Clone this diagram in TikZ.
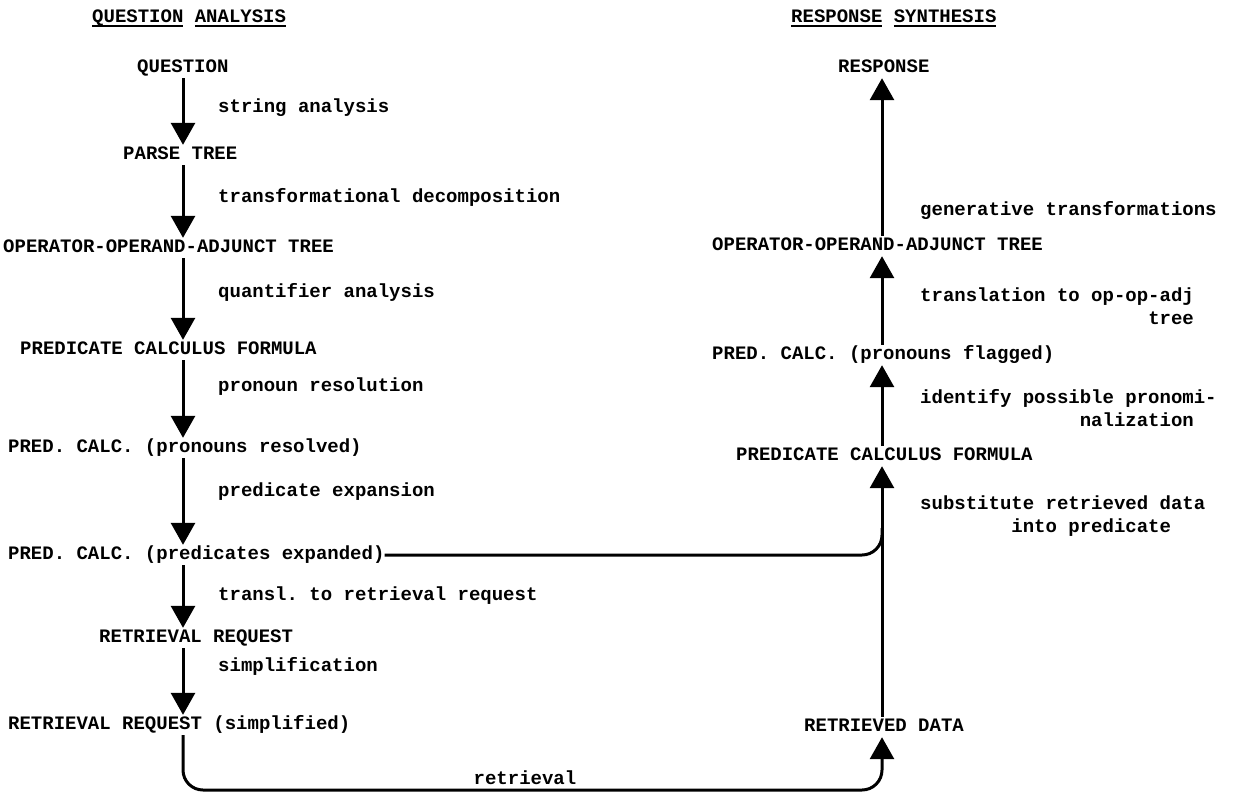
\documentclass[tikz,border=0pt]{standalone}
\usepackage{fontspec}
\setmonofont{Liberation Mono}
\usetikzlibrary{arrows.meta,positioning,calc}

\newcommand{\ulword}[1]{\setbox0\hbox{#1}\rlap{\rule[-5pt]{\wd0}{2pt}}\box0\relax}

\tikzset{
  stage/.style={anchor=west, inner xsep=0pt, inner ysep=3pt, text height=11pt, text depth=3pt},
  note/.style={anchor=west, inner sep=0pt, align=left},
  flow/.style={line width=3pt, -{Triangle[width=24pt,length=22pt]}},
  link/.style={line width=3pt},
}

\begin{document}
\begin{tikzpicture}[x=1pt, y=-1pt, font=\fontsize{19}{23}\selectfont\ttfamily\bfseries]
  \useasboundingbox (0,0) rectangle (1233,798);
  % column axes
  \coordinate (lcol) at (183,0);
  \coordinate (rcol) at (882,0);

  % Headings
  \node[stage] (qa) at (92,18) {\ulword{QUESTION} \ulword{ANALYSIS}};
  \node[stage] (rs) at (791,18) {\ulword{RESPONSE} \ulword{SYNTHESIS}};

  % Left column: question analysis
  \node[stage] (question) at (137,68) {QUESTION};
  \node[stage] (parse) at (123,155) {PARSE TREE};
  \node[stage] (ooal) at (3,248) {OPERATOR-OPERAND-ADJUNCT TREE};
  \node[stage] (pcfl) at (20,350) {PREDICATE CALCULUS FORMULA};
  \node[stage] (pcres) at (8,448) {PRED. CALC. (pronouns resolved)};
  \node[stage] (pcexp) at (8,555) {PRED. CALC. (predicates expanded)};
  \node[stage] (rreq) at (99,638) {RETRIEVAL REQUEST};
  \node[stage] (rsimp) at (8,725) {RETRIEVAL REQUEST (simplified)};

  \node[note] (l1) at (218,108) {string analysis};
  \node[note] (l2) at (218,197) {transformational decomposition};
  \node[note] (l3) at (218,292) {quantifier analysis};
  \node[note] (l4) at (218,387) {pronoun resolution};
  \node[note] (l5) at (218,492) {predicate expansion};
  \node[note] (l6) at (218,596) {transl. to retrieval request};
  \node[note] (l7) at (218,666) {simplification};

  \draw[flow] (question.south -| lcol) -- (parse.north -| lcol);
  \draw[flow] (parse.south -| lcol) -- (ooal.north -| lcol);
  \draw[flow] (ooal.south -| lcol) -- (pcfl.north -| lcol);
  \draw[flow] (pcfl.south -| lcol) -- (pcres.north -| lcol);
  \draw[flow] (pcres.south -| lcol) -- (pcexp.north -| lcol);
  \draw[flow] (pcexp.south -| lcol) -- (rreq.north -| lcol);
  \draw[flow] (rreq.south -| lcol) -- (rsimp.north -| lcol);

  % Right column: response synthesis
  \node[stage] (response) at (838,68) {RESPONSE};
  \node[stage] (ooar) at (712,246) {OPERATOR-OPERAND-ADJUNCT TREE};
  \node[stage] (pcflag) at (712,355) {PRED. CALC. (pronouns flagged)};
  \node[stage] (pcfr) at (736,456) {PREDICATE CALCULUS FORMULA};
  \node[stage] (rdata) at (804,727) {RETRIEVED DATA};

  \node[note] (r1) at (920,210) {generative transformations};
  \node[note] (r2) at (920,308) {translation to op-op-adj\\\phantom{translation to op-op}tree};
  \node[note] (r3) at (920,410) {identify possible pronomi-\\\phantom{identify possi}nalization};
  \node[note] (r4) at (920,516) {substitute retrieved data\\\phantom{substitu}into predicate};

  \draw[flow] (rdata.north -| rcol) -- (pcfr.south -| rcol);
  \draw[flow] (pcfr.north -| rcol) -- (pcflag.south -| rcol);
  \draw[flow] (pcflag.north -| rcol) -- (ooar.south -| rcol);
  \draw[flow] (ooar.north -| rcol) -- (response.south -| rcol);

  % cross links
  \coordinate (join) at (882,528);
  \coordinate (botr) at (882,790);
  \draw[link, rounded corners=20pt] (pcexp.east) -| (join);
  \draw[flow, rounded corners=20pt] (rsimp.south -| lcol) |- (botr) -- (rdata.south -| rcol);
  \node[note, anchor=base] (retr) at (525,784) {retrieval};
\end{tikzpicture}
\end{document}
